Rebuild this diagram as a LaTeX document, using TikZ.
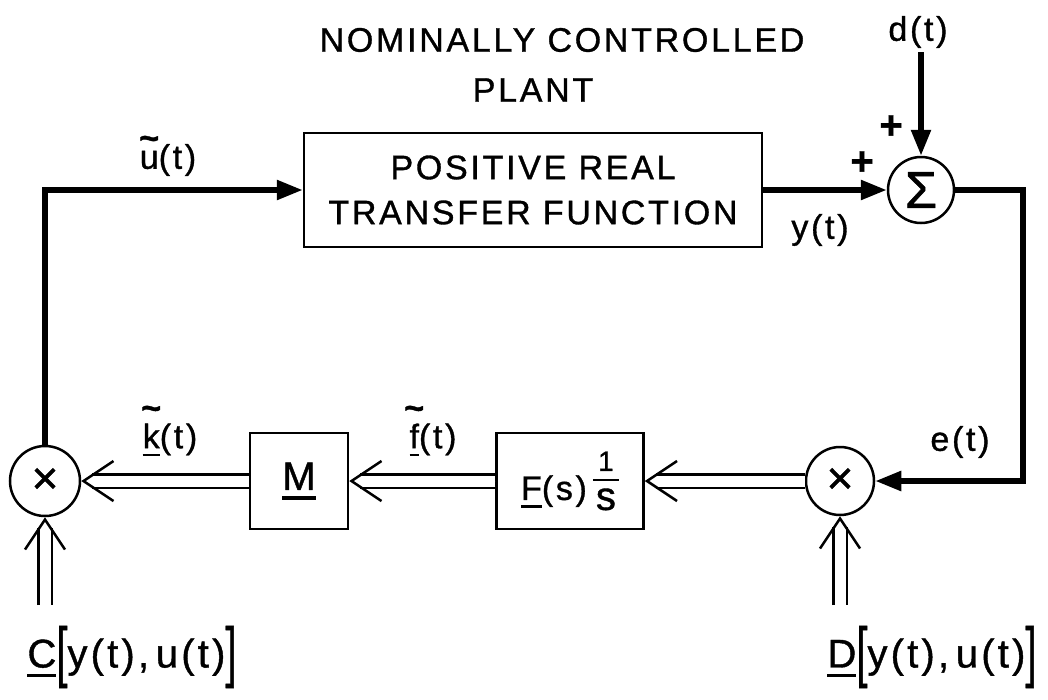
\documentclass[tikz,border=0pt]{standalone}
\usepackage{fontspec}
\usepackage{graphicx}
\setmainfont{Liberation Sans}[LetterSpace=8, FakeBold=1]
\newfontfamily\plainsf{Liberation Sans}[FakeBold=1]
\usetikzlibrary{arrows.meta}
\newcommand\tld[2][0.56em]{\leavevmode\hbox{\ooalign{#2\cr\hidewidth\raisebox{#1}{\plainsf\bfseries\char"7E}\hidewidth\cr}}}
\newcommand\ulin[1]{\leavevmode\setbox0\hbox{#1}\rlap{\rule[-0.24em]{\wd0}{0.08em}}\box0}
\newcommand\brk[1]{\raisebox{-0.17em}{\scalebox{1}[1.67]{\plainsf #1}}}
\newcommand\fracs{\raisebox{-10pt}{\vbox{\offinterlineskip\halign{\hfil##\hfil\cr
  \plainsf\fontsize{28}{28}\selectfont 1\cr\noalign{\kern8pt}
  \rule{26pt}{2.5pt}\cr\noalign{\kern7pt}
  \plainsf\fontsize{40}{40}\selectfont s\cr}}}}
\newcommand\dblarrow[2]{\draw[dbl] (#1) -- (#2); \draw[dbltip] (#1) -- (#2);}
\begin{document}
\begin{tikzpicture}[x=1pt,y=-1pt,
  every node/.style={font=\fontsize{34}{42}\selectfont, inner sep=0pt},
  blk/.style={draw, line width=2.5pt, inner sep=0pt},
  crc/.style={draw, circle, line width=2.5pt, inner sep=0pt},
  thk/.style={line width=5.5pt, -{Triangle[length=26pt,width=19pt]}},
  dbl/.style={double, double distance=11pt, line width=2.5pt, shorten >=11pt},
  dbltip/.style={draw=white, line width=2pt,
    -{Straight Barb[length=30pt,width=40pt,line width=2.5pt,color=black]}}]
\useasboundingbox (0,0) rectangle (1048,699);
% title
\node (t1) at (562,40) {NOMINALLY CONTROLLED};
\node (t2) at (533,90) {PLANT};
% plant
\node[blk, minimum width=458pt, minimum height=114pt, align=center,
      font=\fontsize{34}{45}\selectfont] (plant) at (533,190) {POSITIVE REAL\\TRANSFER FUNCTION};
\node[crc, minimum size=66pt, font=\plainsf\fontsize{52}{52}\selectfont] (sum) at (921,190) {Σ};
\node (dlab) at (918,32) {d(t)};
\coordinate (dtop) at (921,52);
\node (pl1) at (891,127) {\plainsf\fontsize{40}{40}\selectfont\bfseries +};
\node (pl2) at (862,163) {\plainsf\fontsize{40}{40}\selectfont\bfseries +};
\node (ylab) at (820,230) {y(t)};
\node (ulab) at (168,160) {\tld{u}(t)};
% lower row
\node[crc, minimum size=70pt, font=\plainsf\fontsize{46}{46}\selectfont] (m1) at (45,481) {×};
\node[blk, minimum width=98pt, minimum height=96pt, font=\plainsf\fontsize{40}{40}\selectfont] (M) at (299,481) {\ulin{M}};
\node[blk, minimum width=147pt, minimum height=96pt] (F) at (570,481) {\ulin{F}(s)\hspace{6pt}\fracs};
\node[crc, minimum size=68pt, font=\plainsf\fontsize{46}{46}\selectfont] (m2) at (840,481) {×};
\node (klab) at (170,440) {\ulin{\tld[0.84em]{k}}(t)};
\node (flab) at (433,440) {\ulin{\tld[0.84em]{f}}(t)};
\node (elab) at (960,442) {e(t)};
\node[font=\fontsize{40}{48}\selectfont] (clab) at (132,657) {\ulin{C}\brk{[}y(t),\,u(t)\brk{]}};
\node[font=\fontsize{40}{48}\selectfont] (dlab2) at (932,657) {\ulin{D}\brk{[}y(t),\,u(t)\brk{]}};
% coordinates
\coordinate (ucor) at (45,190);
\coordinate (scor) at (1023,190);
\coordinate (ecor) at (1023,481);
\coordinate (cbot) at (45,605);
\coordinate (dbot) at (840,605);
% connectors
\draw[thk] (m1) -- (ucor) -- (plant.west);
\draw[thk] (plant.east) -- (sum.west);
\draw[thk] (dtop) -- (sum.north);
\draw[thk] (sum.east) -- (scor) -- (ecor) -- (m2.east);
\dblarrow{m2.west}{F.east}
\dblarrow{F.west}{M.east}
\dblarrow{M.west}{m1.east}
\dblarrow{cbot}{m1.south}
\dblarrow{dbot}{m2.south}
\end{tikzpicture}
\end{document}
